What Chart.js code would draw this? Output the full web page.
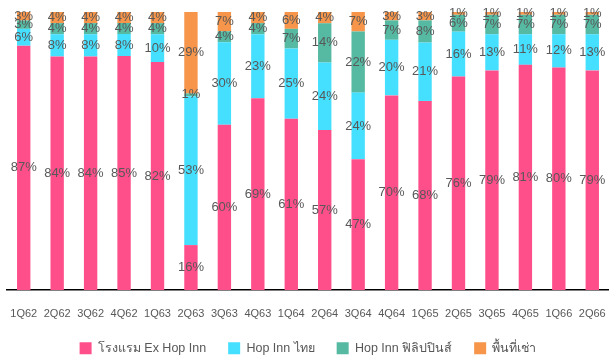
<!DOCTYPE html>
<html>
<head>
<meta charset="utf-8">
<script src="https://cdn.jsdelivr.net/npm/chart.js@4"></script>
<style>
  html, body { margin: 0; padding: 0; background: #fff; }
  #wrap { width: 609px; height: 360px; }
</style>
</head>
<body>
<div id="wrap"><canvas id="revenueMix"></canvas></div>
<script>
// quarters (Thai Buddhist years)
const quarters = ['1Q62', '2Q62', '3Q62', '4Q62', '1Q63', '2Q63', '3Q63', '4Q63', '1Q64',
    '2Q64', '3Q64', '4Q64', '1Q65', '2Q65', '3Q65', '4Q65', '1Q66', '2Q66'];

// share of revenue, % (as printed on the bars)
const exHopInn = [87, 84, 84, 85, 82, 16, 60, 69, 61, 57, 47, 70, 68, 76, 79, 81, 80, 79];
const hopInnThai = [6, 8, 8, 8, 10, 53, 30, 23, 25, 24, 24, 20, 21, 16, 13, 11, 12, 13];
const hopInnPhil = [3, 4, 4, 4, 4, 1, 4, 4, 7, 14, 22, 7, 8, 6, 7, 7, 7, 7];
const rental = [3, 4, 4, 4, 4, 29, 7, 4, 6, 4, 7, 3, 3, 1, 1, 1, 1, 1];

const seriesNames = ['โรงแรม Ex Hop Inn', 'Hop Inn ไทย', 'Hop Inn ฟิลิปปินส์', 'พื้นที่เช่า'];
const seriesColors = ['#ff4f8b', '#45dfff', '#56b9a2', '#f7964a'];

const FONT = "'Liberation Sans', Arial, sans-serif";
const TEXT_GREY = '#585858';

// every column is drawn as a 100% stack, labels keep the printed numbers
const allSeries = [exHopInn, hopInnThai, hopInnPhil, rental];
const totals = quarters.map((q, i) => allSeries.reduce((s, arr) => s + arr[i], 0));

function toShare(arr) {
    return arr.map((v, i) => v / totals[i] * 100);
}

// draws the "xx%" text in the middle of each segment
const segmentLabels = {
    id: 'segmentLabels',
    afterDatasetsDraw(chart) {
        const ctx = chart.ctx;
        ctx.save();
        ctx.font = '13px ' + FONT;
        ctx.fillStyle = TEXT_GREY;
        ctx.textAlign = 'center';
        ctx.textBaseline = 'middle';
        chart.data.datasets.forEach((ds, di) => {
            const meta = chart.getDatasetMeta(di);
            meta.data.forEach((bar, i) => {
                const mid = (bar.y + bar.base) / 2;
                ctx.fillText(ds.raw[i] + '%', bar.x, mid);
            });
        });
        ctx.restore();
    }
};

// legend: wide gaps between items but a short box
const legendHeight = {
    id: 'legendHeight',
    beforeInit(chart) {
        const fit = chart.legend.fit;
        chart.legend.fit = function () {
            fit.call(this);
            this.height = 40;
        };
    }
};

document.addEventListener('DOMContentLoaded', function () {
    const ctx = document.getElementById('revenueMix').getContext('2d');

    const datasets = allSeries.map((arr, k) => ({
        label: seriesNames[k],
        data: toShare(arr),
        raw: arr,
        backgroundColor: seriesColors[k],
        borderWidth: 0,
        categoryPercentage: 1,
        barPercentage: 0.4
    }));

    new Chart(ctx, {
        type: 'bar',
        data: { labels: quarters, datasets: datasets },
        options: {
            responsive: true,
            maintainAspectRatio: false,
            animation: false,
            layout: { padding: { top: 12, left: 7, right: 0, bottom: 0 } },
            scales: {
                x: {
                    stacked: true,
                    // invisible tick marks push the labels down without adding side padding
                    grid: {
                        display: true,
                        drawOnChartArea: false,
                        drawTicks: true,
                        tickLength: 14,
                        color: 'rgba(0,0,0,0)'
                    },
                    border: { display: true, color: '#000', width: 1.5 },
                    ticks: {
                        color: TEXT_GREY,
                        font: { family: FONT, size: 11 },
                        padding: 3,
                        maxRotation: 0,
                        autoSkip: false
                    },
                    afterFit(scale) { scale.height = 30; }
                },
                y: {
                    stacked: true,
                    display: false,
                    min: 0,
                    max: 100
                }
            },
            plugins: {
                tooltip: { enabled: false },
                legend: {
                    position: 'bottom',
                    labels: {
                        boxWidth: 12,
                        boxHeight: 12,
                        padding: 22,
                        color: TEXT_GREY,
                        font: { family: FONT, size: 12.5 }
                    }
                }
            }
        },
        plugins: [segmentLabels, legendHeight]
    });
});
</script>
</body>
</html>
